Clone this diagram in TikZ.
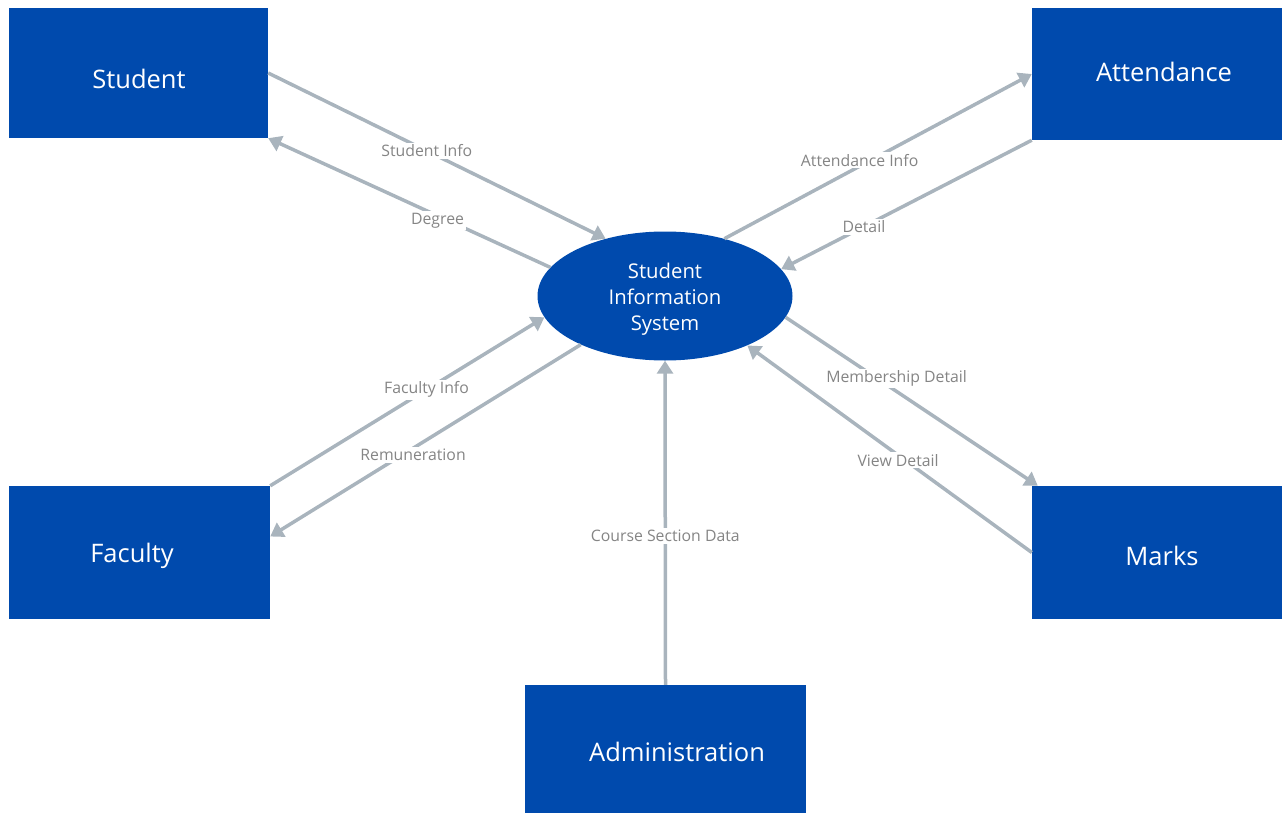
\documentclass[tikz,border=0pt]{standalone}
\usepackage{fontspec}
\setmainfont{Open Sans}
\usetikzlibrary{arrows.meta,shapes.geometric}
\definecolor{boxblue}{HTML}{004AAD}
\definecolor{flowgray}{HTML}{A9B4BD}
\definecolor{lblgray}{HTML}{858585}

\begin{document}
\begin{tikzpicture}[x=1pt,y=-1pt,
  entity/.style={fill=boxblue, draw=none, inner sep=0pt, rectangle},
  entitytext/.style={text=white, font=\fontsize{25.5}{30}\selectfont, inner sep=0pt},
  process/.style={ellipse, fill=boxblue, draw=none, inner sep=0pt,
    minimum width=255pt, minimum height=129pt},
  processtext/.style={text=white, align=center, inner sep=0pt,
    font=\fontsize{20.3}{26}\selectfont},
  flow/.style={draw=flowgray, line width=3.5pt,
    -{Triangle[length=13pt,width=16pt]}},
  lbl/.style={fill=white, text=lblgray, inner sep=2pt,
    font=\fontsize{15.8}{18}\selectfont}
]
\useasboundingbox (0,0) rectangle (1282,813);

% external entities
\node[entity, minimum width=259pt, minimum height=130pt] (student) at (138.5,73) {};
\node[entity, minimum width=250pt, minimum height=132pt] (attendance) at (1157,74) {};
\node[entity, minimum width=261pt, minimum height=133pt] (faculty) at (139.5,552.5) {};
\node[entity, minimum width=250pt, minimum height=133pt] (marks) at (1157,552.5) {};
\node[entity, minimum width=281pt, minimum height=128pt] (admin) at (665.5,749) {};

\node[entitytext] (studentT) at ([shift={(0.5,6)}]student.center) {Student};
\node[entitytext] (attendanceT) at ([shift={(7,-2)}]attendance.center) {Attendance};
\node[entitytext] (facultyT) at ([shift={(-7.5,3.5)}]faculty.center) {Faculty};
\node[entitytext] (marksT) at ([shift={(5,3.5)}]marks.center) {Marks};
\node[entitytext] (adminT) at ([shift={(11.5,3)}]admin.center) {Administration};

% central process
\node[process] (sis) at (665,296) {};
\node[processtext] (sisT) at ([yshift=-3pt]sis.center) {Student\\Information\\System};

% data flows
\draw[flow] (student.east) -- node[lbl, pos=0.47] {Student Info} (sis.136);
\draw[flow] (sis.166) -- node[lbl, pos=0.40, yshift=-5pt] {Degree} (student.south east);
\draw[flow] (sis.44) -- node[lbl, pos=0.44, yshift=6pt] {Attendance Info} (attendance.west);
\draw[flow] (attendance.south west) -- node[lbl, pos=0.67] {Detail} (sis.13.8);
\draw[flow] (faculty.north east) -- node[lbl, pos=0.57] {Faculty Info} (sis.190.4);
\draw[flow] (sis.210) -- node[lbl, pos=0.54, yshift=-7pt] {Remuneration} ([yshift=16pt]faculty.east);
\draw[flow] (sis.-10.2) -- node[lbl, pos=0.44, yshift=13pt] {Membership Detail} ([xshift=6pt]marks.north west);
\draw[flow] (marks.west) -- node[lbl, pos=0.47, yshift=-5pt] {View Detail} (sis.-31);
\draw[flow] (admin.north) -- node[lbl, pos=0.46] {Course Section Data} (sis.south);
\end{tikzpicture}
\end{document}
